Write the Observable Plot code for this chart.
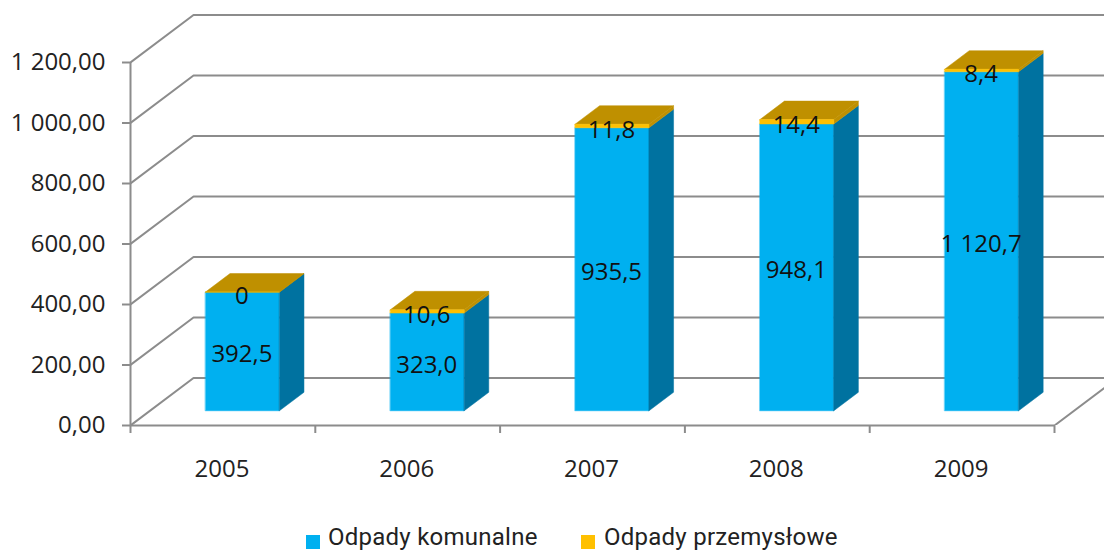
<!DOCTYPE html>
<html><head><meta charset="utf-8">
<script src="https://cdn.jsdelivr.net/npm/d3@7"></script>
<script src="https://cdn.jsdelivr.net/npm/@observablehq/plot@0.6"></script>
<style>
html,body{margin:0;padding:0;background:#fff;overflow:hidden}
#legend{position:relative;height:27px;font:24px/25px Roboto,sans-serif;color:#222;letter-spacing:.25px}
#legend span{position:absolute;white-space:nowrap}
#legend .sw{width:14px;height:14px}
</style></head><body>
<div id="chart"></div>
<div id="legend"></div>
<script>
const years = ["2005","2006","2007","2008","2009"];
const komunalne = [392.5,323.0,935.5,948.1,1120.7];
const przemyslowe = [0,10.6,11.8,14.4,8.4];
const yTicks = [0,200,400,600,800,1000,1200];
const names = ["Odpady komunalne","Odpady przemysłowe"];
const colors = ["#00B0F0","#FFC000"];
const sideColor = "#0072A0", topColor = "#BF9000";

const pl = d3.formatLocale({decimal:",",thousands:"\u00a0",grouping:[3],currency:["",""]});
const f2 = pl.format(",.2f"), f1 = pl.format(",.1f");
const dX = 0.341, dY = 157, fa = 0.31, fb = 0.70, half = 0.2;
const pX = (x,d)=>x+d*dX, pY=(v,d)=>v+d*dY;
const P = (x,v,d)=>({X:pX(x,d),Y:pY(v,d)});

const faces = {front0:[],front1:[],side0:[],top:[]};
const addPoly=(k,id,pts)=>pts.forEach(p=>faces[k].push({id,...p}));
years.forEach((_,i)=>{
  const c=i+.5,l=c-half,r=c+half,a=komunalne[i],t=a+przemyslowe[i];
  addPoly("front0",i,[P(l,0,fa),P(r,0,fa),P(r,a,fa),P(l,a,fa)]);
  addPoly("front1",i,[P(l,a,fa),P(r,a,fa),P(r,t,fa),P(l,t,fa)]);
  addPoly("side0",i,[P(r,0,fa),P(r,0,fb),P(r,a,fb),P(r,a,fa)]);
  addPoly("top",i,[P(l,t,fa),P(l,t,fb),P(r,t,fb),P(r,t,fa)]);
  addPoly("top",i+"s",[P(r,a,fa),P(r,a,fb),P(r,t,fb),P(r,t,fa)]);
});
const face=(k,color)=>Plot.line(faces[k],{x:"X",y:"Y",z:"id",fill:color,stroke:color,strokeWidth:.5,curve:"linear-closed"});

const gridData = yTicks.flatMap(v=>[
  {id:v,...P(0,v,0)},{id:v,...P(0,v,1)},{id:v,...P(5.27,v,1)}]);
const gridColor="#8c8c8c";
const floorEdge=[P(5,0,0),P(5,0,1)];
const cx=i=>pX(i+.5,fa);
const labelsA=years.map((_,i)=>({X:cx(i),Y:pY(komunalne[i]/2,fa),t:f1(komunalne[i])}));
const labelsB=years.map((_,i)=>({X:cx(i),Y:pY(komunalne[i]+przemyslowe[i]/2,fa),t:przemyslowe[i]===0?"0":f1(przemyslowe[i])}));

const chart = Plot.plot({
  width:1104,height:525,
  marginLeft:130,marginRight:0,marginTop:0,marginBottom:100,
  style:{fontFamily:"'Open Sans',sans-serif",fontSize:"24px",background:"#fff",color:"#222"},
  x:{domain:[0,5],range:[130,1054],label:null},
  y:{domain:[0,1200],range:[425,62],label:null},
  marks:[
    Plot.line(gridData,{x:"X",y:"Y",z:"id",stroke:gridColor,strokeWidth:2,clip:true}),
    Plot.line(floorEdge,{x:"X",y:"Y",stroke:gridColor,strokeWidth:2,clip:true}),
    Plot.axisY({ticks:yTicks,tickFormat:f2,tickSize:8,tickPadding:17,stroke:gridColor,strokeWidth:2,fill:"#222",label:null,fontSize:24}),
    Plot.axisX({ticks:d3.range(6),tickFormat:()=>"",tickSize:8,stroke:gridColor,strokeWidth:2,label:null}),
    Plot.axisX({ticks:years.map((_,i)=>i+.5),tickFormat:v=>years[v-.5],tickSize:0,tickPadding:34,dx:-1,fill:"#222",label:null,fontSize:24}),
    Plot.ruleX([0],{y1:0,y2:1200,stroke:gridColor,strokeWidth:2}),
    Plot.ruleY([0],{x1:0,x2:5,stroke:gridColor,strokeWidth:2}),
    face("front0",colors[0]),
    face("side0",sideColor),
    face("top",topColor),
    face("front1",colors[1]),
    Plot.text(labelsA,{x:"X",y:"Y",text:"t",dy:3,dx:-0.5,fill:"#111",fontSize:24}),
    Plot.text(labelsB,{x:"X",y:"Y",text:"t",dy:4,dx:-0.5,fill:"#111",fontSize:24})
  ]
});
document.getElementById("chart").appendChild(chart);

const lg=document.getElementById("legend");
const sw=[306,581], tx=[328,604];
names.forEach((n,i)=>{
  const s=document.createElement("span");s.className="sw";s.style.cssText=`left:${sw[i]}px;top:10px;background:${colors[i]}`;lg.appendChild(s);
  const t=document.createElement("span");t.textContent=n;t.style.cssText=`left:${tx[i]}px;top:0px`;lg.appendChild(t);
});
</script>
</body></html>
